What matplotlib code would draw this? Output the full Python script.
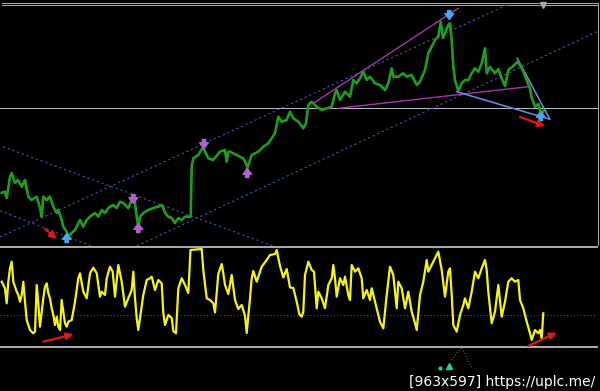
import numpy as np
import matplotlib
matplotlib.use("Agg")
import matplotlib.pyplot as plt

# price pane: bar position and close (points above the pane bottom)
price_x = [1.7, 5, 6.7, 10, 11.7, 15, 18, 21.7, 25, 28.3, 31.7, 36.7, 40, 41.7, 43.3, 46.7,
           50, 53.3, 56.7, 58.3, 61.7, 63.3, 66.7, 68.3, 71.7, 75, 80, 83.3, 86.7, 90, 95,
           98.3, 101.7, 105, 108.3, 113, 116.7, 120, 123.3, 128.3, 131.7, 133, 135, 136.7,
           138.3, 140, 143.3, 148.3, 153.3, 158.3, 161.7, 163.3, 165, 168.3, 171.7, 175,
           178.3, 181.7, 185, 188.3, 190.7, 191.7, 193.3, 198.3, 203.3, 205, 208.3, 213.3,
           220, 225, 226.7, 228.3, 230, 236.7, 243.3, 246.7, 247.3, 251.7, 258.3, 263.3,
           268.3, 275, 278.3, 281.7, 286.7, 290, 293.3, 298.3, 303.3, 306, 308.3, 311.7,
           316.7, 321.7, 326.7, 331.7, 335, 336.7, 340, 345, 350, 353.3, 356.7, 360, 363.3,
           366.7, 370, 375, 380, 385, 388.3, 391.7, 393.3, 398.3, 403.3, 406.7, 411.7,
           416.7, 420, 425, 428.3, 431.7, 435, 438.3, 440.7, 443, 448.3, 450, 451.7, 453.3,
           455, 458.3, 461.7, 465, 468.3, 471.7, 475, 478.3, 481.7, 485, 486.7, 490, 495,
           498.3, 501.7, 505, 508.3, 513.3, 517.3, 520, 523.3, 526.7, 530, 531.7, 533.3,
           535, 538.3, 540, 541.7, 543.3]
price_pts = [53.3, 54.3, 48, 69.3, 73, 63, 66, 59.3, 66, 49.3, 46, 49.3, 38, 29.3, 49.3, 46,
             49.3, 39.3, 33, 36, 26, 19.3, 14.3, 9.3, 13, 16, 26, 19.3, 26, 29.3, 33,
             29.3, 36, 33, 38, 41, 38, 44.3, 43, 38, 46, 49.3, 43, 29.3,
             19.3, 29.3, 33, 36, 38, 39.3, 41, 38, 33, 29.3, 28, 23,
             28, 26, 29.3, 29.3, 29.3, 79.3, 87.7, 91, 99.3, 94.3, 87.7, 86,
             94.3, 96, 84.3, 94, 94.3, 91, 87.7, 81, 77.7, 91, 94.3, 99.3,
             102.7, 112.7, 129.3, 124.3, 126, 134.3, 127.7, 124.3, 117.7, 122.7, 141, 144.3,
             139.3, 136, 137.7, 139.3, 152.7, 156, 146, 154.3, 149.3, 166, 162.7, 167.7, 174.3,
             166, 169.3, 162.7, 161, 156, 162.7, 177.7, 169.3, 169.3, 172.7, 169.3, 171,
             161, 164.3, 176, 192.7, 199.3, 206, 209.3, 224.3, 208, 221, 222.7, 206, 179.3,
             166, 155, 162.7, 166, 166, 172.7, 177.7, 174.3, 182.7, 197.7, 172.7, 179, 172.7,
             177, 167.7, 160, 176, 180, 184, 181, 174.3, 166, 157.7, 148, 144.3,
             139.3, 142, 136, 132, 135]

# oscillator pane
osc_x = [1.7, 5, 6.7, 8.3, 10, 11.7, 13.3, 15, 16.7, 18.3, 20, 21.7, 23.3, 25, 26.7, 30, 33.3,
         35, 36.7, 38.3, 40, 41.7, 43.3, 45, 46.7, 48.3, 50, 51.7, 53.3, 55, 56.7, 58.3, 60,
         61.7, 63.3, 65, 66.7, 68.3, 71.7, 75, 78.3, 80, 83.3, 86.7, 90, 93.3, 96.7, 100,
         101.7, 105, 106.7, 110, 112.7, 115, 118.3, 121.7, 125, 128.3, 131.7, 133.3, 135,
         136.7, 138.3, 140, 143.3, 146.7, 150, 151.7, 155, 158.3, 161.7, 163.3, 165, 168.3,
         171.7, 173.3, 176, 178.3, 181.7, 185, 188.3, 190.5, 201.7, 203.3, 206.7, 210, 213.3,
         215, 218.3, 221.7, 223.3, 225, 228.3, 231.7, 235, 238.3, 241.7, 245, 246.7, 250,
         251.7, 253.3, 256.7, 261.7, 266.7, 270, 275, 276.7, 280, 283.3, 286.7, 290, 293.3,
         296.7, 299.3, 301.7, 303.3, 305, 308.3, 311.7, 314, 316.7, 318.3, 321.7, 325, 328.3,
         331.7, 333.3, 335, 336.7, 340, 343.3, 345, 348.3, 350, 351.7, 355, 358.3, 361.7,
         363.3, 366.7, 370, 371.7, 375, 380, 383.3, 386.7, 390, 393.3, 396.7, 398.3, 401.7,
         405, 408.3, 411.7, 415, 416.7, 420, 423.3, 426.7, 428.3, 431.7, 435, 438.3, 441.7,
         445, 448.3, 450, 451.7, 453.3, 456.7, 460, 463.3, 465, 468.3, 471.7, 473.3, 475,
         478.3, 481.7, 485, 486.7, 488.3, 491.7, 495, 498.3, 501.7, 505, 508.3, 511.7, 515,
         518.3, 520, 523.3, 526.7, 530, 531.7, 535, 538.3, 540, 541.7, 543.3]
osc_val = [65.3, 58.7, 43.7, 65.3, 78.7, 85.3, 65.3, 60.3, 55.3, 52, 45.3, 52, 65.3, 45.3, 27, 17, 13.7,
           15.3, 62, 43.7, 20.3, 35.3, 48.7, 60.3, 63.7, 53.7, 48.7, 38.7, 32, 22, 30.3, 20.3, 17,
           47, 35.3, 23.7, 20.3, 25.3, 27, 45.3, 68.7, 73.7, 55.3, 48.7, 73.7, 79.3, 73.7, 50.3,
           55.3, 52, 68.7, 80.3, 75.3, 50.3, 82, 65.3, 40.3, 48.7, 57, 75.3, 48.7,
           28.7, 17, 28.7, 52, 67, 68.7, 70.3, 57, 67, 63.7, 34, 22, 32,
           29, 16, 13.7, 58.7, 68.7, 62, 54, 97, 98, 77, 48.7, 47, 43.7,
           34.5, 73, 83, 73.7, 62, 53, 72, 47, 38, 42, 31, 14, 48.7,
           68.7, 76, 65.3, 80.3, 87, 92, 93, 97, 81, 69.5, 78, 59.5, 59,
           45.3, 33, 30.3, 35.3, 72, 85.3, 77, 75.3, 38.7, 55.3, 48.7, 38.7, 62,
           68.7, 82, 68.7, 50.3, 68.7, 62, 70.3, 52, 47, 82, 75.3, 78.7, 68.7,
           48.7, 57, 47, 58.7, 45.3, 25.3, 18.7, 52, 80.3, 72, 38.7, 65.3, 58.7,
           38.7, 55.3, 35.3, 23.7, 17, 52, 65.3, 87, 75.3, 82, 88.7, 95.3, 77,
           50.3, 75.3, 78.7, 52, 22, 15.3, 32, 42, 48.7, 38.7, 55.3, 65.3, 75.3,
           68.7, 78.7, 87, 77, 55.3, 23.7, 35.3, 62, 30.3, 45.3, 65.3, 68.7, 65.3,
           67, 47, 38.7, 25.3, 13.7, 7, 17, 13.7, 17, 8.7, 33.7]
osc_level = 32

# drawn objects: (x0, y0, x1, y1)
channel_lines = [(0, 9, 507, 241), (137, 0, 597, 214.3), (3, 99.3, 273, 0), (0, 35.3, 91.5, 0)]
wedge_lines = [(313.3, 142.7, 458.3, 237.7), (338.3, 137.7, 528.3, 159.3)]
blue_lines = [(456.7, 154.3, 550, 126.7), (517.3, 187.7, 549.3, 127.7)]
hline_price = 138
price_red = [(45, 17, 56.7, 7), (520, 129, 545, 120)]
osc_red = [(43.3, 5.3, 73.3, 12.7), (528.3, 1, 556.7, 14.3)]
# signal arrows: x, centre, direction (+1 up, -1 down), colour
sig_x = [133.3, 138.3, 204, 247.3, 66.7, 449.3, 540.7]
sig_y = [47, 18, 102, 73, 8, 231, 130]
sig_dir = [-1, 1, -1, 1, 1, -1, 1]
sig_col = ['#b060d0', '#b060d0', '#b060d0', '#b060d0', '#40a8f0', '#40a8f0', '#40a8f0']

GRAY = '#a8a8a8'
PX = 0.72

fig = plt.figure(figsize=(6, 3.91), dpi=100, facecolor='black')
ax = fig.add_axes([0, 145 / 391, 1, 246 / 391])
ax2 = fig.add_axes([0, 0, 1, 145 / 391])
for a in (ax, ax2):
    a.set_facecolor('black')
    a.set_xlim(0, 600)
    a.axis('off')
ax.set_ylim(0, 246)
ax2.set_ylim(-44, 101)

# price pane
ax.plot([2, 597], [243.5, 243.5], color=GRAY, lw=PX)
ax.plot([2, 597], [241.5, 241.5], color=GRAY, lw=PX)
ax.plot([598, 598], [0, 243.5], color=GRAY, lw=PX)
ax.plot([0, 597], [hline_price, hline_price], color='#b8b8c8', lw=PX)
for x0, y0, x1, y1 in channel_lines:
    ax.plot([x0, x1], [y0, y1], color='#5050b0', lw=0.8, ls=(0, (2, 2.5)))
for x0, y0, x1, y1 in wedge_lines:
    ax.plot([x0, x1], [y0, y1], color='#b030b8', lw=1.0)
for x0, y0, x1, y1 in blue_lines:
    ax.plot([x0, x1], [y0, y1], color='#6e8ee0', lw=1.1)
ax.plot(price_x, price_pts, color='#1e9e1e', lw=1.9)
for x, y, d, c in zip(sig_x, sig_y, sig_dir, sig_col):
    ax.annotate('', xy=(x, y + 4.5 * d), xytext=(x, y - 4.5 * d),
                arrowprops=dict(arrowstyle='simple,head_width=0.9,head_length=0.6,tail_width=0.35',
                                color=c, mutation_scale=7, shrinkA=0, shrinkB=0))
for x0, y0, x1, y1 in price_red:
    ax.annotate('', xy=(x1, y1), xytext=(x0, y0),
                arrowprops=dict(arrowstyle='-|>,head_width=0.25,head_length=0.5', color='#e01818',
                                lw=1.6, mutation_scale=8, shrinkA=0, shrinkB=0))
ax.plot([543], [241], marker='v', color=GRAY, ms=4, ls='none')

# oscillator pane
ax2.plot([0, 597], [100.5, 100.5], color=GRAY, lw=2 * PX)
ax2.plot([0, 597], [0, 0], color=GRAY, lw=2 * PX)
ax2.plot([0, 597], [osc_level, osc_level], color='#803080', lw=0.8, ls=(0, (1, 2)))
ax2.plot(osc_x, osc_val, color='#f4f41c', lw=1.6)
for x0, y0, x1, y1 in osc_red:
    ax2.annotate('', xy=(x1, y1), xytext=(x0, y0),
                 arrowprops=dict(arrowstyle='-|>,head_width=0.25,head_length=0.5', color='#e01818',
                                 lw=1.6, mutation_scale=8, shrinkA=0, shrinkB=0))
ax2.plot([451.7, 461.7, 471.7], [-13, 0, -21], color='#808080', lw=0.7, ls=(0, (1, 2)))
ax2.plot([440], [-21], marker='o', color='#20d0a0', ms=2, ls='none')
ax2.plot([449.3], [-19], marker='^', color='#20d0a0', ms=4, ls='none')

fig.text(595 / 600, (391 - 386) / 391, '[963x597] https://uplc.me/', color='white',
         ha='right', va='baseline', fontsize=10,
         family=['Liberation Sans Narrow', 'DejaVu Sans'])

fig.savefig('out.png', dpi=100, facecolor='black')
